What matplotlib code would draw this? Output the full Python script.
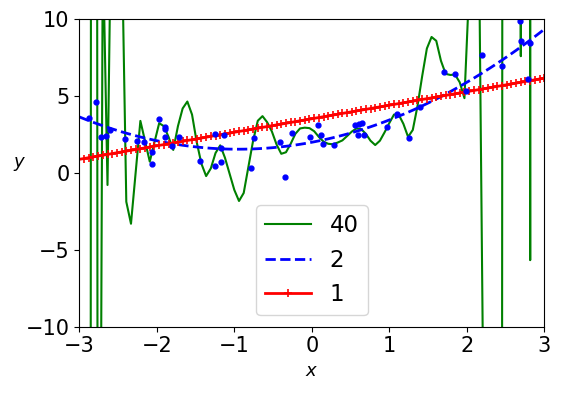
import numpy as np
import matplotlib
matplotlib.use("Agg")
import matplotlib.pyplot as plt

# Scatter data
X = [-2.79, -2.87, -2.72, -2.65, -2.60, -2.41, -2.26, -2.16, -2.06, -2.06,
     -1.97, -1.90, -1.89, -1.89, -1.80, -1.72, -1.44, -1.25, -1.25, -1.13,
     -1.17, -1.17, -0.75, -0.79, -0.35, -0.41, -0.26, -0.02, 0.08, 0.12,
     0.15, 0.28, 0.56, 0.61, 0.65, 0.60, 0.68, 0.97, 1.10, 1.40,
     1.26, 1.71, 1.85, 1.99, 2.20, 2.46, 2.69, 2.70, 2.82, 2.79]
Y = [4.61, 3.56, 2.33, 2.39, 2.80, 2.20, 2.08, 2.00, 1.37, 0.59,
     3.50, 3.02, 2.87, 2.37, 1.76, 2.37, 0.76, 0.44, 2.52, 2.46,
     1.63, 0.70, 2.26, 0.31, -0.28, 2.00, 2.58, 2.33, 3.11, 2.46,
     1.87, 1.80, 3.11, 3.17, 3.24, 2.46, 2.46, 2.98, 3.82, 4.28,
     2.28, 6.56, 6.45, 5.32, 7.67, 6.95, 9.92, 8.58, 8.45, 6.10]

# Prediction grid
X_new = np.linspace(-3, 3, 100)

# Degree-40 model predictions on the grid
y_deg40 = [-150, -400, -244, 300, -60, 15, -0.78, 22, 25, 16,
           -1.87, -3.3, 0.05, 3.39, 2.07, 0.74, 2.0, 3.24, 3.05, 2.35,
           1.5, 3.05, 4.2, 4.65, 3.8, 2.0, 0.6, -0.2, 0.3, 1.3,
           1.8, 1.0, -0.05, -1.1, -1.82, -1.3, 0.4, 2.1, 3.4, 3.7,
           3.3, 2.7, 1.85, 1.25, 1.35, 1.9, 2.55, 2.9, 2.95, 2.92,
           2.72, 2.35, 2.04, 1.9, 1.87, 1.98, 2.12, 2.4, 2.69, 2.9,
           2.86, 2.55, 2.1, 1.82, 2.1, 2.65, 3.25, 3.8, 3.8, 3.2,
           2.35, 2.8, 4.35, 6.3, 8.1, 8.85, 8.6, 7.3, 6.45, 6.38,
           6.4, 5.9, 4.87, 12, 30, 18, -14, -50, -100, -300,
           -20, 500, 400, 200, 7.6, 400, -5.67, 800, 300, 100]

# Fitted model coefficients, highest power first
deg2_coefs = [0.50, 0.95, 2.00]
deg1_coefs = [0.88, 3.53]

labels = ["40", "2", "1"]

fig = plt.figure(figsize=(5.61, 3.94), dpi=100)
ax = fig.add_axes([0.1414, 0.1708, 0.8288, 0.7802])

ax.plot(X_new, y_deg40, "g-", linewidth=1.5, label=labels[0])
ax.plot(X_new, np.polyval(deg2_coefs, X_new), "b--", linewidth=2.0, label=labels[1])
ax.plot(X_new, np.polyval(deg1_coefs, X_new), "r-+", linewidth=2.0,
        markersize=6, markeredgewidth=1.2, label=labels[2])
ax.plot(X, Y, "b.", markersize=7)

ax.set_xlim(-3, 3)
ax.set_ylim(-10, 10)
ax.set_xticks([-3, -2, -1, 0, 1, 2, 3])
ax.set_yticks([-10, -5, 0, 5, 10])
ax.tick_params(labelsize=15)
ax.set_xlabel("$x$", fontsize=13)
ax.set_ylabel("$y$", rotation=0, fontsize=13)
ax.legend(loc="lower center", fontsize=16.5)

fig.savefig("out.png", dpi=100)
